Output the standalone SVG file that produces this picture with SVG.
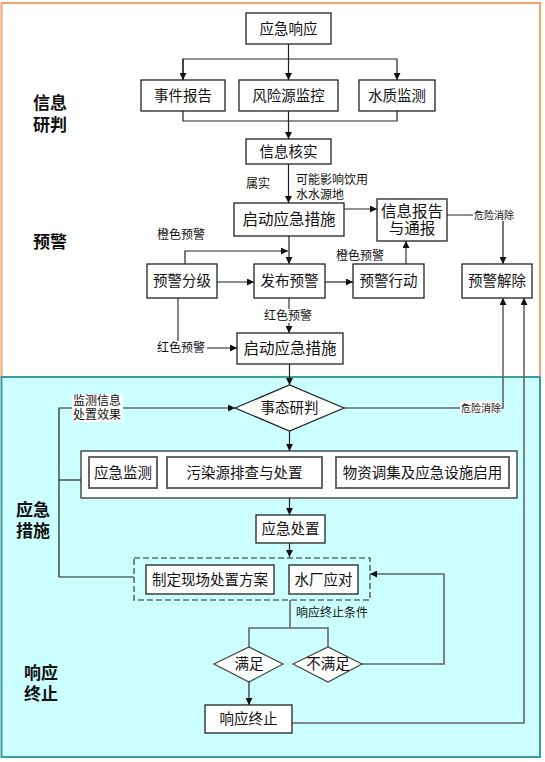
<svg xmlns="http://www.w3.org/2000/svg" width="545" height="762" viewBox="0 0 545 762">
<style>
text{font-family:"Liberation Sans","Noto Sans CJK SC",sans-serif;fill:#111}
.bx{fill:#fff;stroke:#222;stroke-width:1.3}
.ib{fill:#fff;stroke:#666;stroke-width:2}
.t{font-size:14.5px;text-anchor:middle}
.lb{font-size:12px}
.sm{font-size:10px}
.sec{font-size:17px;font-weight:bold}
.c{fill:none;stroke:#222;stroke-width:1.2}
.g{fill:none;stroke:#666;stroke-width:1.6}
.bg{fill:#fff}
</style>
<defs>
<marker id="ar" viewBox="0 0 10 10" refX="10" refY="5" markerWidth="7" markerHeight="7" markerUnits="userSpaceOnUse" orient="auto">
<path d="M0,0L10,5L0,10z" fill="#111"/>
</marker>
</defs>
<rect x="1.5" y="3" width="538.5" height="374" fill="#fff" stroke="#f5a26a" stroke-width="2"/>
<rect x="1.5" y="377" width="538.5" height="380" fill="#ccffff" stroke="#3a9c9c" stroke-width="2"/>
<text class="sec" x="33" y="109">信息</text>
<text class="sec" x="33" y="131">研判</text>
<text class="sec" x="33" y="248">预警</text>
<text class="sec" x="16" y="516">应急</text>
<text class="sec" x="16" y="537">措施</text>
<text class="sec" x="24" y="679">响应</text>
<text class="sec" x="24" y="700">终止</text>
<g id="connectors">
<path class="c" d="M288.5,44V80" marker-end="url(#ar)"/>
<path class="c" d="M183,80V59H397V80" marker-end="url(#ar)"/>
<path class="c" d="M183,59V80" marker-end="url(#ar)"/>
<path class="c" d="M183,111V121H397V111"/>
<path class="c" d="M288.5,111V139" marker-end="url(#ar)"/>
<path class="c" d="M288.5,164V203" marker-end="url(#ar)"/>
<path class="c" d="M344,209H377" marker-end="url(#ar)"/>
<path class="c" d="M447,215H503V264" marker-end="url(#ar)"/>
<path class="c" d="M289,236V264" marker-end="url(#ar)"/>
<path class="c" d="M185,264V251H288" marker-end="url(#ar)"/>
<path class="c" d="M217,282H254" marker-end="url(#ar)"/>
<path class="c" d="M325,282H353" marker-end="url(#ar)"/>
<path class="g" d="M406,264V241" marker-end="url(#ar)"/>
<path class="g" d="M289,298V333" marker-end="url(#ar)"/>
<path class="g" d="M178,298V348H237" marker-end="url(#ar)"/>
<path class="c" d="M289.5,364V385" marker-end="url(#ar)"/>
<path class="c" d="M134,577H59V408H235" marker-end="url(#ar)"/>
<path class="c" d="M81,480H59"/>
<path class="g" d="M344,408H503V298" marker-end="url(#ar)"/>
<path class="c" d="M289.5,431V451" marker-end="url(#ar)"/>
<path class="c" d="M289.5,498V515" marker-end="url(#ar)"/>
<path class="c" d="M289.5,543V557" marker-end="url(#ar)"/>
<path class="g" d="M290,600V628M249,647V628H328V647"/>
<path class="g" d="M362,664H444V574H370" marker-end="url(#ar)"/>
<path class="c" d="M249,682V705" marker-end="url(#ar)"/>
<path class="g" d="M292,723H524V298" marker-end="url(#ar)" stroke="#5a7a7a" stroke-width="2"/>
</g>
<g id="labels">
<text class="lb" x="246" y="188">属实</text>
<text class="lb" x="296" y="184">可能影响饮用</text>
<text class="lb" x="296" y="199">水水源地</text>
<rect class="bg" x="473" y="208" width="45" height="13"/>
<text class="sm" x="474" y="219">危险消除</text>
<text class="lb" x="157" y="239">橙色预警</text>
<text class="lb" x="336" y="260">橙色预警</text>
<rect class="bg" x="264" y="309" width="50" height="14"/>
<text class="lb" x="264" y="320">红色预警</text>
<rect class="bg" x="156" y="341" width="51" height="14"/>
<text class="lb" x="157" y="352">红色预警</text>
<rect class="bg" x="72" y="394" width="51" height="28"/>
<text class="lb" x="73" y="405">监测信息</text>
<text class="lb" x="73" y="419">处置效果</text>
<rect class="bg" x="460" y="401" width="41" height="13"/>
<text class="sm" x="461" y="412">危险消除</text>
<text class="lb" x="296" y="617">响应终止条件</text>
</g>
<g id="n-yjxy"><rect class="bx" x="246" y="13" width="85" height="31"/><text class="t" x="288.5" y="34">应急响应</text></g>
<g id="n-sjbg"><rect class="bx" x="141" y="80" width="84" height="31"/><text class="t" x="183" y="101">事件报告</text></g>
<g id="n-fxyjk"><rect class="bx" x="239" y="80" width="99" height="31"/><text class="t" x="288.5" y="101">风险源监控</text></g>
<g id="n-szjc"><rect class="bx" x="359" y="80" width="76" height="31"/><text class="t" x="397" y="101">水质监测</text></g>
<g id="n-xxhs"><rect class="bx" x="246" y="139" width="85" height="25"/><text class="t" x="288.5" y="157">信息核实</text></g>
<g id="n-qdyj1"><rect class="bx" x="234" y="203" width="110" height="33"/><text class="t" x="289" y="225" style="font-size:15.5px">启动应急措施</text></g>
<g id="n-xxbg"><rect class="bx" x="377" y="199" width="70" height="42"/><text class="t" x="412" y="217" style="font-size:15.5px">信息报告</text><text class="t" x="412" y="234" style="font-size:15.5px">与通报</text></g>
<g id="n-yjjc"><rect class="bx" x="462" y="264" width="70" height="34"/><text class="t" x="497" y="286">预警解除</text></g>
<g id="n-yjfj"><rect class="bx" x="147" y="264" width="70" height="34"/><text class="t" x="182" y="286">预警分级</text></g>
<g id="n-fbyj"><rect class="bx" x="254" y="264" width="71" height="34"/><text class="t" x="289.5" y="286">发布预警</text></g>
<g id="n-yjxd"><rect class="bx" x="353" y="264" width="71" height="34"/><text class="t" x="388.5" y="286">预警行动</text></g>
<g id="n-qdyj2"><rect class="bx" x="237" y="333" width="106" height="31"/><text class="t" x="290" y="354" style="font-size:15.5px">启动应急措施</text></g>
<g id="n-styp"><path d="M235,408L289.5,385L344,408L289.5,431Z" fill="#fff" stroke="#222" stroke-width="1.2"/><text class="t" x="289.5" y="413">事态研判</text></g>
<g id="n-group"><rect x="81" y="451" width="436" height="47" fill="#fff" stroke="#222" stroke-width="1.2"/>
<g id="n-yjjc2"><rect class="ib" x="89" y="457" width="68" height="31"/><text class="t" x="123" y="478">应急监测</text></g>
<g id="n-wry"><rect class="ib" x="167" y="457" width="155" height="31"/><text class="t" x="244.5" y="478">污染源排查与处置</text></g>
<g id="n-wz"><rect class="ib" x="336" y="457" width="173" height="31"/><text class="t" x="422.5" y="478">物资调集及应急设施启用</text></g>
</g>
<g id="n-yjcz"><rect class="bx" x="256" y="515" width="69" height="28"/><text class="t" x="290.5" y="534">应急处置</text></g>
<g id="n-dash"><rect x="134" y="558" width="236" height="42" fill="none" stroke="#557070" stroke-width="1.6" stroke-dasharray="6,3"/>
<g id="n-zdxc"><rect class="bx" x="146" y="565" width="128" height="29"/><text class="t" x="210" y="585">制定现场处置方案</text></g>
<g id="n-scyd"><rect class="bx" x="289" y="565" width="69" height="29"/><text class="t" x="323.5" y="585">水厂应对</text></g>
</g>
<g id="n-mz"><path d="M214,664L249,647L283,664L249,682Z" fill="#fff" stroke="#444" stroke-width="1.2"/><text class="t" x="249" y="669">满足</text></g>
<g id="n-bmz"><path d="M293,664L328,647L362,664L328,682Z" fill="#fff" stroke="#444" stroke-width="1.2"/><text class="t" x="328" y="669">不满足</text></g>
<g id="n-xyzz"><rect class="bx" x="205" y="705" width="87" height="28"/><text class="t" x="248.5" y="724">响应终止</text></g>
</svg>
